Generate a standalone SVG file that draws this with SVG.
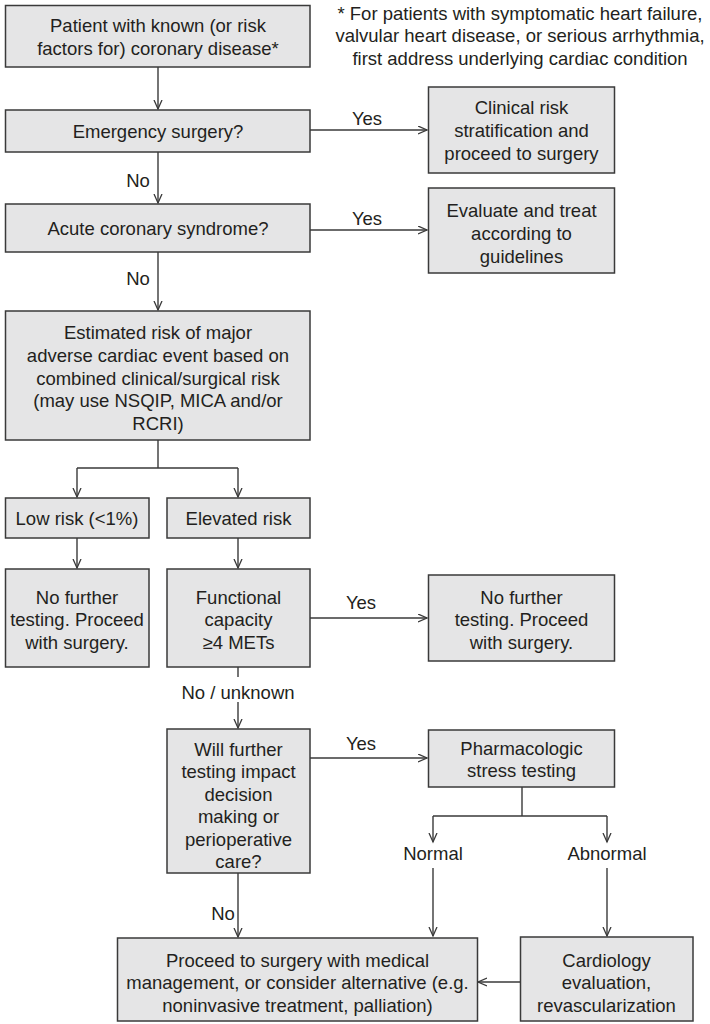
<svg xmlns="http://www.w3.org/2000/svg" width="710" height="1024" viewBox="0 0 710 1024">
<style>
.box{fill:#e5e5e6;stroke:#3a3a3a;stroke-width:1.5}
.t{font-family:"Liberation Sans",Arial,sans-serif;font-size:18.5px;fill:#231f20;text-anchor:middle}
.c{fill:none;stroke:#3a3a3a;stroke-width:1.4}
</style>
<defs>
<marker id="ah" markerUnits="userSpaceOnUse" markerWidth="12" markerHeight="12" refX="9" refY="4.5" orient="auto">
<path d="M0,0.5 L9,4.5 L0,8.5" fill="none" stroke="#3a3a3a" stroke-width="1.3"/>
</marker>
</defs>
<rect width="710" height="1024" fill="#fff"/>
<g id="footnote">
<text class="t" x="520" y="19.5">* For patients with symptomatic heart failure,</text>
<text class="t" x="520" y="42">valvular heart disease, or serious arrhythmia,</text>
<text class="t" x="520" y="64.5">first address underlying cardiac condition</text>
</g>
<g id="connectors">
<path class="c" d="M158,67 V109" marker-end="url(#ah)"/>
<path class="c" d="M310,130 H427" marker-end="url(#ah)"/>
<path class="c" d="M158,152 V203" marker-end="url(#ah)"/>
<path class="c" d="M310,230 H427" marker-end="url(#ah)"/>
<path class="c" d="M158,252 V310" marker-end="url(#ah)"/>
<path class="c" d="M158,440 V468 M77,468 H238"/>
<path class="c" d="M77,468 V497" marker-end="url(#ah)"/>
<path class="c" d="M238,468 V497" marker-end="url(#ah)"/>
<path class="c" d="M77,538 V568" marker-end="url(#ah)"/>
<path class="c" d="M238,538 V568" marker-end="url(#ah)"/>
<path class="c" d="M310,618 H427" marker-end="url(#ah)"/>
<path class="c" d="M238,667 V677"/>
<path class="c" d="M238,702 V728" marker-end="url(#ah)"/>
<path class="c" d="M310,758 H427" marker-end="url(#ah)"/>
<path class="c" d="M522,787 V816 M433,816 H607"/>
<path class="c" d="M433,816 V842" marker-end="url(#ah)"/>
<path class="c" d="M607,816 V842" marker-end="url(#ah)"/>
<path class="c" d="M433,868 V936" marker-end="url(#ah)"/>
<path class="c" d="M607,868 V936" marker-end="url(#ah)"/>
<path class="c" d="M238,873 V937" marker-end="url(#ah)"/>
<path class="c" d="M520,982 H478" marker-end="url(#ah)"/>
<text class="t" x="367" y="125">Yes</text>
<text class="t" x="138" y="186.5">No</text>
<text class="t" x="367" y="225">Yes</text>
<text class="t" x="138" y="284.5">No</text>
<text class="t" x="361" y="609">Yes</text>
<text class="t" x="238" y="698.5">No / unknown</text>
<text class="t" x="361" y="750">Yes</text>
<text class="t" x="433" y="859.5">Normal</text>
<text class="t" x="607" y="859.5">Abnormal</text>
<text class="t" x="223" y="919.5">No</text>
</g>
<g id="n1">
<rect class="box" x="5.5" y="5.5" width="304.5" height="61.5"/>
<text class="t" x="158" y="32">Patient with known (or risk</text>
<text class="t" x="158" y="55">factors for) coronary disease*</text>
</g>
<g id="n2">
<rect class="box" x="5.5" y="110" width="304.5" height="42"/>
<text class="t" x="158" y="137.5">Emergency surgery?</text>
</g>
<g id="n3">
<rect class="box" x="428.5" y="87" width="186" height="86"/>
<text class="t" x="521.5" y="113.5">Clinical risk</text>
<text class="t" x="521.5" y="136.5">stratification and</text>
<text class="t" x="521.5" y="159.5">proceed to surgery</text>
</g>
<g id="n4">
<rect class="box" x="5.5" y="204" width="304.5" height="48"/>
<text class="t" x="158" y="234.5">Acute coronary syndrome?</text>
</g>
<g id="n5">
<rect class="box" x="428.5" y="188" width="186" height="85"/>
<text class="t" x="521.5" y="216.5">Evaluate and treat</text>
<text class="t" x="521.5" y="239.5">according to</text>
<text class="t" x="521.5" y="262.5">guidelines</text>
</g>
<g id="n6">
<rect class="box" x="5.5" y="311" width="304.5" height="129"/>
<text class="t" x="158" y="339">Estimated risk of major</text>
<text class="t" x="158" y="362">adverse cardiac event based on</text>
<text class="t" x="158" y="384.5">combined clinical/surgical risk</text>
<text class="t" x="158" y="407">(may use NSQIP, MICA and/or</text>
<text class="t" x="158" y="429.5">RCRI)</text>
</g>
<g id="n7">
<rect class="box" x="5.5" y="498" width="143.5" height="40"/>
<text class="t" x="77" y="524.5">Low risk (&lt;1%)</text>
</g>
<g id="n8">
<rect class="box" x="167" y="498" width="143" height="40"/>
<text class="t" x="238.5" y="524.5">Elevated risk</text>
</g>
<g id="n9">
<rect class="box" x="5.5" y="569" width="143.5" height="98"/>
<text class="t" x="77" y="603.5">No further</text>
<text class="t" x="77" y="626">testing. Proceed</text>
<text class="t" x="77" y="648.5">with surgery.</text>
</g>
<g id="n10">
<rect class="box" x="167" y="569" width="143" height="98"/>
<text class="t" x="238.5" y="603.5">Functional</text>
<text class="t" x="238.5" y="626">capacity</text>
<text class="t" x="238.5" y="648.5">≥4 METs</text>
</g>
<g id="n11">
<rect class="box" x="428.5" y="575" width="186" height="86"/>
<text class="t" x="521.5" y="603.5">No further</text>
<text class="t" x="521.5" y="626">testing. Proceed</text>
<text class="t" x="521.5" y="648.5">with surgery.</text>
</g>
<g id="n12">
<rect class="box" x="167" y="729" width="143" height="144"/>
<text class="t" x="238.5" y="755.5">Will further</text>
<text class="t" x="238.5" y="778">testing impact</text>
<text class="t" x="238.5" y="800.5">decision</text>
<text class="t" x="238.5" y="823">making or</text>
<text class="t" x="238.5" y="845.5">perioperative</text>
<text class="t" x="238.5" y="868">care?</text>
</g>
<g id="n13">
<rect class="box" x="428.5" y="730" width="186" height="57"/>
<text class="t" x="521.5" y="754.5">Pharmacologic</text>
<text class="t" x="521.5" y="777">stress testing</text>
</g>
<g id="n14">
<rect class="box" x="117.5" y="938" width="360" height="83"/>
<text class="t" x="297.5" y="966.5">Proceed to surgery with medical</text>
<text class="t" x="297.5" y="989">management, or consider alternative (e.g.</text>
<text class="t" x="297.5" y="1011.5">noninvasive treatment, palliation)</text>
</g>
<g id="n15">
<rect class="box" x="520.5" y="937" width="172.5" height="84"/>
<text class="t" x="606.5" y="966.5">Cardiology</text>
<text class="t" x="606.5" y="989">evaluation,</text>
<text class="t" x="606.5" y="1011.5">revascularization</text>
</g>
</svg>
